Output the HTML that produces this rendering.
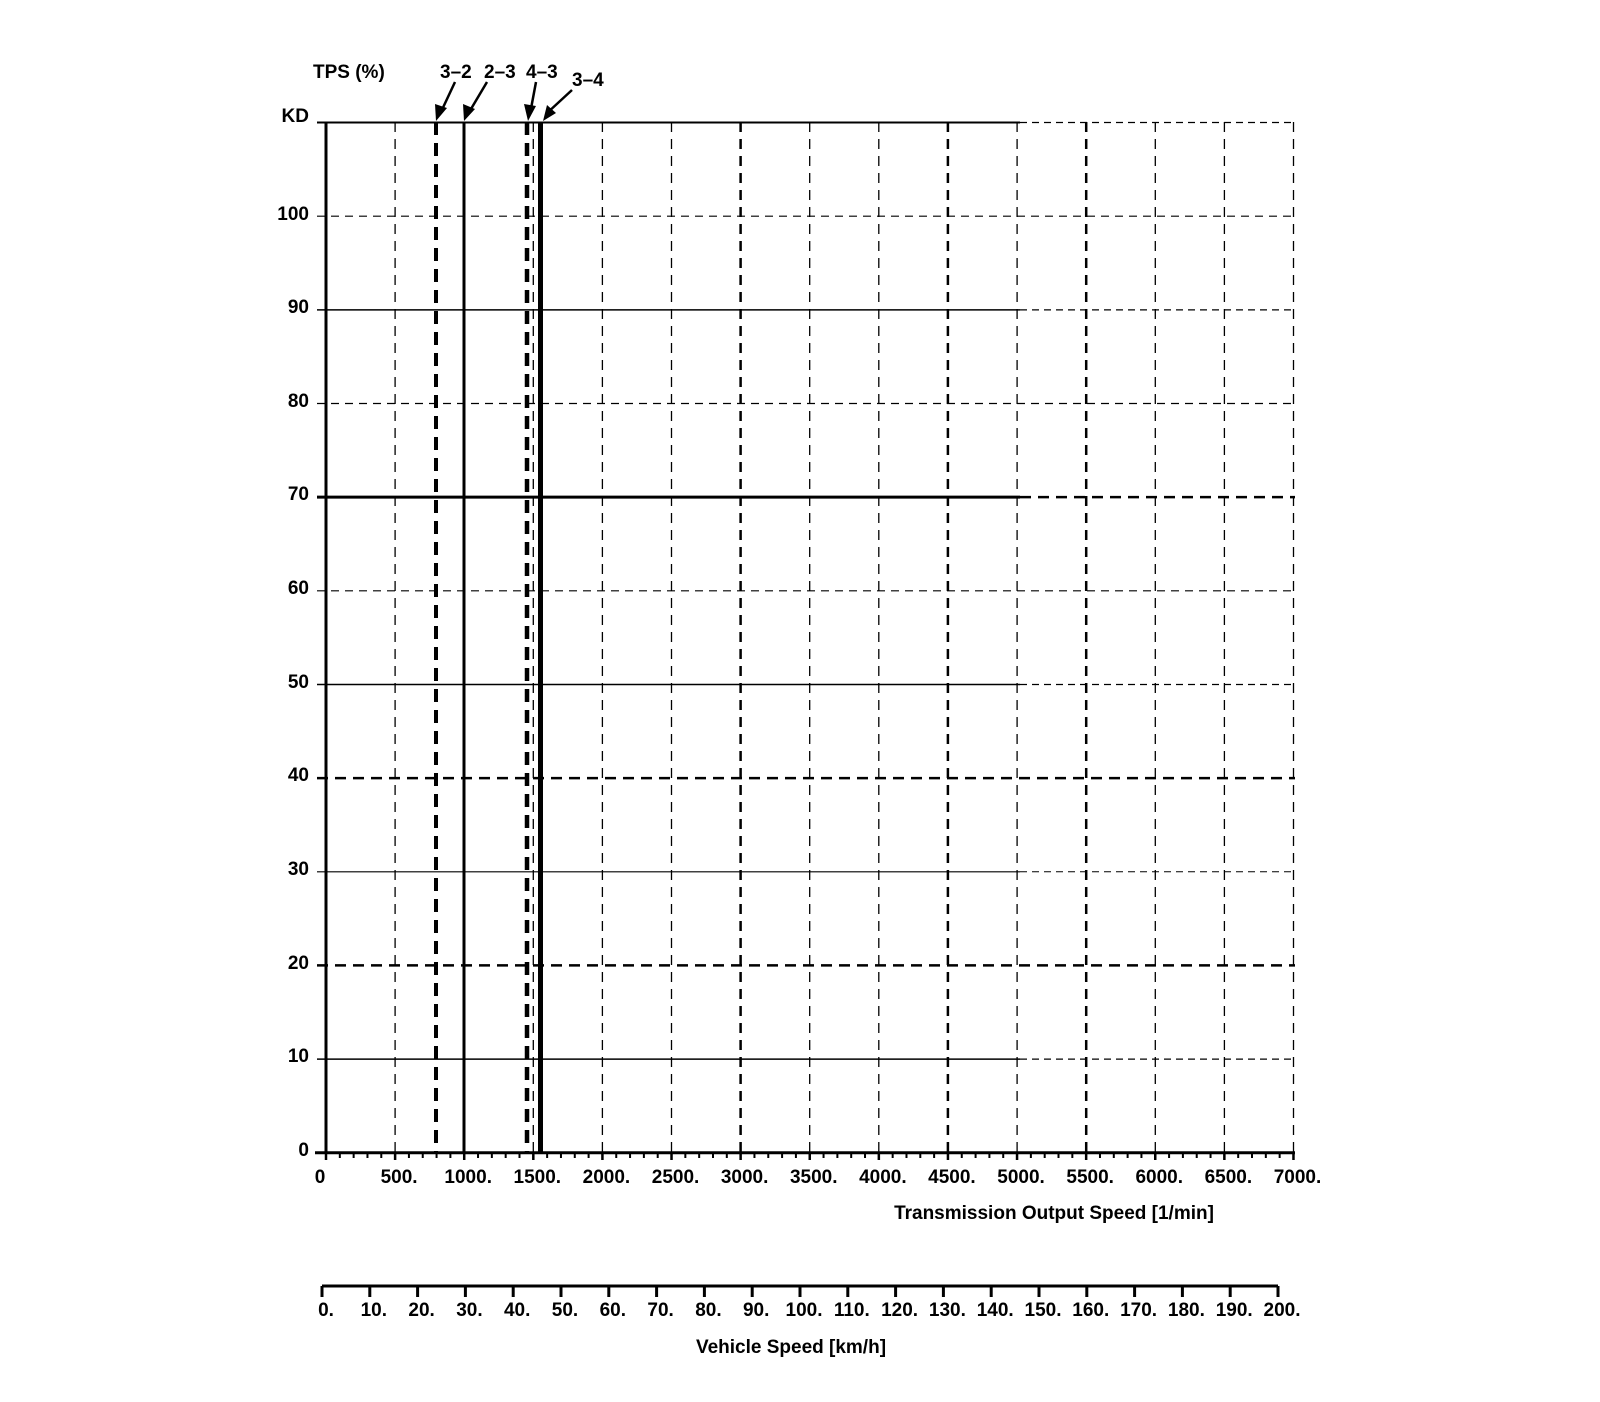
<!DOCTYPE html>
<html><head><meta charset="utf-8"><style>
html,body{margin:0;padding:0;background:#fff;}
svg{display:block;}
text{font-family:"Liberation Sans",Arial,sans-serif;font-size:19px;font-weight:bold;fill:#000;}
</style></head><body>
<svg width="1600" height="1402" viewBox="0 0 1600 1402" xmlns="http://www.w3.org/2000/svg">
<g stroke="#000" fill="none">
<line x1="317" y1="122.5" x2="1020" y2="122.5" stroke-width="2"/>
<line x1="1020" y1="122.5" x2="1295" y2="122.5" stroke-width="1.2" stroke-dasharray="7,5"/>
<line x1="317" y1="216.2" x2="1295" y2="216.2" stroke-width="1.2" stroke-dasharray="8,6"/>
<line x1="317" y1="309.9" x2="1020" y2="309.9" stroke-width="1.5"/>
<line x1="1020" y1="309.9" x2="1295" y2="309.9" stroke-width="1.2" stroke-dasharray="7,5"/>
<line x1="317" y1="403.5" x2="1295" y2="403.5" stroke-width="1.2" stroke-dasharray="8,6"/>
<line x1="317" y1="497.1" x2="1020" y2="497.1" stroke-width="3"/>
<line x1="1020" y1="497.1" x2="1295" y2="497.1" stroke-width="2.5" stroke-dasharray="11,7"/>
<line x1="317" y1="590.8" x2="1295" y2="590.8" stroke-width="1.2" stroke-dasharray="8,6"/>
<line x1="317" y1="684.5" x2="1020" y2="684.5" stroke-width="1.5"/>
<line x1="1020" y1="684.5" x2="1295" y2="684.5" stroke-width="1.2" stroke-dasharray="7,5"/>
<line x1="317" y1="778.1" x2="1295" y2="778.1" stroke-width="2.5" stroke-dasharray="11,7"/>
<line x1="317" y1="871.8" x2="1020" y2="871.8" stroke-width="1.2"/>
<line x1="1020" y1="871.8" x2="1295" y2="871.8" stroke-width="1" stroke-dasharray="7,5"/>
<line x1="317" y1="965.4" x2="1295" y2="965.4" stroke-width="2.5" stroke-dasharray="11,7"/>
<line x1="317" y1="1059.1" x2="1020" y2="1059.1" stroke-width="1.5"/>
<line x1="1020" y1="1059.1" x2="1295" y2="1059.1" stroke-width="1.2" stroke-dasharray="7,5"/>
<g stroke-width="1.3" stroke-dasharray="10,7">
<line x1="395.1" y1="122" x2="395.1" y2="1152"/>
<line x1="533.3" y1="122" x2="533.3" y2="1152"/>
<line x1="602.4" y1="122" x2="602.4" y2="1152"/>
<line x1="671.5" y1="122" x2="671.5" y2="1152"/>
<line x1="809.7" y1="122" x2="809.7" y2="1152"/>
<line x1="878.8" y1="122" x2="878.8" y2="1152"/>
<line x1="1017.1" y1="122" x2="1017.1" y2="1152"/>
<line x1="1155.3" y1="122" x2="1155.3" y2="1152"/>
<line x1="1224.4" y1="122" x2="1224.4" y2="1152"/>
<line x1="1293.5" y1="122" x2="1293.5" y2="1152"/>
</g>
<g stroke-width="2.5" stroke-dasharray="10,7">
<line x1="740.6" y1="122" x2="740.6" y2="1152"/>
<line x1="947.9" y1="122" x2="947.9" y2="1152"/>
<line x1="1086.2" y1="122" x2="1086.2" y2="1152"/>
</g>
<line x1="436" y1="122" x2="436" y2="1152" stroke-width="4" stroke-dasharray="13,8"/>
<line x1="464" y1="122" x2="464" y2="1152" stroke-width="3"/>
<line x1="527" y1="122" x2="527" y2="1152" stroke-width="4.5" stroke-dasharray="13,8"/>
<line x1="540.5" y1="122" x2="540.5" y2="1152" stroke-width="5"/>
<line x1="326" y1="122" x2="326" y2="1154" stroke-width="3"/>
<line x1="315" y1="1152.7" x2="1295" y2="1152.7" stroke-width="3"/>
<line x1="322" y1="1286" x2="1278" y2="1286" stroke-width="3"/>
</g>
<g stroke="#000" stroke-width="2" id="ticks"></g>
<g id="lbl"></g>
<text x="313" y="78">TPS (%)</text>
<text x="440" y="78">3–2</text>
<text x="484" y="78">2–3</text>
<text x="526" y="78">4–3</text>
<text x="572" y="86">3–4</text>
<g stroke="#000" stroke-width="2.5">
<line x1="455" y1="82" x2="440" y2="114"/><line x1="487" y1="82" x2="468" y2="114"/>
<line x1="536" y1="82" x2="530" y2="114"/><line x1="572" y1="90" x2="546" y2="114"/>
</g>
<g fill="#000">
<polygon points="436,121 435,104 447,108"/><polygon points="464,121 463,104 475,109"/>
<polygon points="528,121 524,104 536,106"/><polygon points="543,121 547,105 556,113"/>
</g>
<g text-anchor="end">
<text x="309" y="122">KD</text>
<text x="309" y="220">100</text>
<text x="309" y="313">90</text>
<text x="309" y="407">80</text>
<text x="309" y="500">70</text>
<text x="309" y="594">60</text>
<text x="309" y="688">50</text>
<text x="309" y="781">40</text>
<text x="309" y="875">30</text>
<text x="309" y="969">20</text>
<text x="309" y="1062">10</text>
<text x="309" y="1156">0</text>
</g>
<text x="1054" y="1219" text-anchor="middle">Transmission Output Speed [1/min]</text>
<text x="791" y="1353" text-anchor="middle">Vehicle Speed [km/h]</text>
<script>
var ns="http://www.w3.org/2000/svg",t=document.getElementById("ticks"),l=document.getElementById("lbl");
function ln(x1,y1,x2,y2,w){var e=document.createElementNS(ns,"line");e.setAttribute("x1",x1);e.setAttribute("y1",y1);e.setAttribute("x2",x2);e.setAttribute("y2",y2);if(w)e.setAttribute("stroke-width",w);t.appendChild(e);}
function tx(x,y,s){var e=document.createElementNS(ns,"text");e.setAttribute("x",x);e.setAttribute("y",y);e.setAttribute("text-anchor","middle");e.textContent=s;l.appendChild(e);}
for(var s=0;s<=7000;s+=100){var x=326+s*0.13821;var maj=s%500==0;ln(x,1152,x,maj?1160:1158,maj?2.5:2);
if(maj)tx(s==0?x-6:x+4,1183,s==0?"0":s+".");}
for(var v=0;v<=200;v+=10){var x=322+v*4.78;ln(x,1286,x,1297,3);tx(x+4,1316,v+".");}
</script>
</svg>
</body></html>
